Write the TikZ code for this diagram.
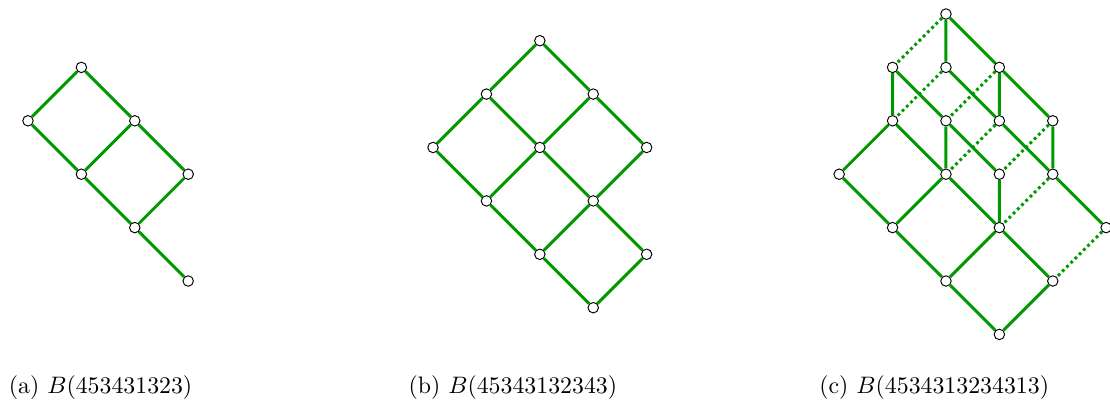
\documentclass[tikz,border=0pt]{standalone}
\usepackage{amsmath}
\usetikzlibrary{calc, positioning}

\begin{document}
\begin{tikzpicture}[x=0.788cm, y=0.788cm,
    vert/.style={circle, draw=black, line width=0.4pt, fill=white, inner sep=0pt, minimum size=4.4pt},
    edge/.style={green!60!black, line width=1.25pt},
    hidden/.style={edge, dash pattern=on 1.2pt off 1.3pt}]
    \useasboundingbox (-0.524,0.262) rectangle (20.262,-7.303);

    % (a)
    \begin{scope}
      \node[vert] (a11) at (1,-1) {};
      \node[vert] (a02) at (0,-2) {};
      \node[vert] (a22) at (2,-2) {};
      \node[vert] (a13) at (1,-3) {};
      \node[vert] (a33) at (3,-3) {};
      \node[vert] (a24) at (2,-4) {};
      \node[vert] (a35) at (3,-5) {};

      \draw[edge] (a11) -- (a02) (a11) -- (a22);
      \draw[edge] (a02) -- (a13) (a22) -- (a13) (a22) -- (a33);
      \draw[edge] (a13) -- (a24) (a33) -- (a24);
      \draw[edge] (a24) -- (a35);
    \end{scope}

    % (b)
    \begin{scope}[xshift=7.585*0.788cm, yshift=-0.5*0.788cm]
      \node[vert] (b20) at (2,0) {};
      \node[vert] (b11) at (1,-1) {};
      \node[vert] (b31) at (3,-1) {};
      \node[vert] (b02) at (0,-2) {};
      \node[vert] (b22) at (2,-2) {};
      \node[vert] (b42) at (4,-2) {};
      \node[vert] (b13) at (1,-3) {};
      \node[vert] (b33) at (3,-3) {};
      \node[vert] (b24) at (2,-4) {};
      \node[vert] (b44) at (4,-4) {};
      \node[vert] (b35) at (3,-5) {};

      \draw[edge] (b20) -- (b11) (b20) -- (b31);
      \draw[edge] (b11) -- (b02) (b11) -- (b22) (b31) -- (b22) (b31) -- (b42);
      \draw[edge] (b02) -- (b13) (b22) -- (b13) (b22) -- (b33) (b42) -- (b33);
      \draw[edge] (b13) -- (b24) (b33) -- (b24) (b33) -- (b44);
      \draw[edge] (b24) -- (b35) (b44) -- (b35);
    \end{scope}

    % (c)
    \begin{scope}[xshift=15.19*0.788cm]
      \node[vert] (c20) at (2,0) {};
      \node[vert] (c11) at (1,-1) {};
      \node[vert] (c21) at (2,-1) {};
      \node[vert] (c31) at (3,-1) {};
      \node[vert] (c12) at (1,-2) {};
      \node[vert] (c22) at (2,-2) {};
      \node[vert] (c32) at (3,-2) {};
      \node[vert] (c42) at (4,-2) {};
      \node[vert] (c03) at (0,-3) {};
      \node[vert] (c23) at (2,-3) {};
      \node[vert] (c33) at (3,-3) {};
      \node[vert] (c43) at (4,-3) {};
      \node[vert] (c14) at (1,-4) {};
      \node[vert] (c34) at (3,-4) {};
      \node[vert] (c54) at (5,-4) {};
      \node[vert] (c25) at (2,-5) {};
      \node[vert] (c45) at (4,-5) {};
      \node[vert] (c36) at (3,-6) {};

      % solid
      \draw[edge] (c20) -- (c21) (c20) -- (c31);
      \draw[edge] (c11) -- (c12) (c11) -- (c22) (c21) -- (c32);
      \draw[edge] (c31) -- (c32) (c31) -- (c42);
      \draw[edge] (c12) -- (c03) (c12) -- (c23) (c22) -- (c23) (c22) -- (c33);
      \draw[edge] (c32) -- (c43) (c42) -- (c43);
      \draw[edge] (c03) -- (c14) (c23) -- (c14) (c23) -- (c34) (c33) -- (c34) (c43) -- (c54);
      \draw[edge] (c14) -- (c25) (c34) -- (c25) (c34) -- (c45);
      \draw[edge] (c25) -- (c36) (c45) -- (c36);
      % dotted
      \draw[hidden] (c20) -- (c11) (c21) -- (c12) (c31) -- (c22);
      \draw[hidden] (c32) -- (c23) (c42) -- (c33) (c43) -- (c34);
      \draw[hidden] (c54) -- (c45);
    \end{scope}

    \node (capa) at (1.36,-7) {(a) $B(453431323)$};
    \node (capb) at (9.08,-7) {(b) $B(45343132343)$};
    \node (capc) at (16.97,-7) {(c) $B(4534313234313)$};
  \end{tikzpicture}
\end{document}
